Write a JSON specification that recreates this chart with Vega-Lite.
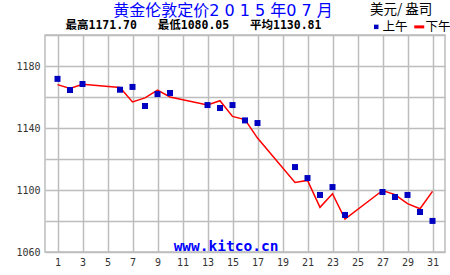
{
  "$schema": "https://vega.github.io/schema/vega-lite/v6.json",
  "width": 400,
  "height": 217,
  "autosize": "none",
  "padding": {"left": 45, "top": 35, "right": 5, "bottom": 23},
  "background": "#ffffff",
  "title": {
    "text": "黄金伦敦定价2 0 1 5 年0 7 月",
    "font": "DejaVu Sans, Noto Sans CJK SC",
    "fontSize": 16,
    "fontWeight": "normal",
    "color": "#0000ff",
    "anchor": "middle",
    "frame": "group",
    "dx": -22,
    "dy": 16,
    "offset": 0
  },
  "config": {
    "view": {"stroke": "#bdbdbd", "strokeWidth": 1.5},
    "axis": {
      "grid": true,
      "gridColor": "#bdbdbd",
      "gridWidth": 1.5,
      "gridOpacity": 1,
      "domain": false,
      "ticks": false,
      "labelFont": "DejaVu Sans Mono",
      "labelFontSize": 10,
      "labelColor": "#333333"
    }
  },
  "data": {
    "values": [
      {"day": 1, "series": "上午", "price": 1171.70},
      {"day": 2, "series": "上午", "price": 1164.5},
      {"day": 3, "series": "上午", "price": 1168.4},
      {"day": 6, "series": "上午", "price": 1164.7},
      {"day": 7, "series": "上午", "price": 1166.5},
      {"day": 8, "series": "上午", "price": 1154.2},
      {"day": 9, "series": "上午", "price": 1161.9},
      {"day": 10, "series": "上午", "price": 1162.6},
      {"day": 13, "series": "上午", "price": 1154.8},
      {"day": 14, "series": "上午", "price": 1152.9},
      {"day": 15, "series": "上午", "price": 1154.8},
      {"day": 16, "series": "上午", "price": 1144.9},
      {"day": 17, "series": "上午", "price": 1143.2},
      {"day": 20, "series": "上午", "price": 1114.8},
      {"day": 21, "series": "上午", "price": 1107.7},
      {"day": 22, "series": "上午", "price": 1096.8},
      {"day": 23, "series": "上午", "price": 1101.9},
      {"day": 24, "series": "上午", "price": 1083.9},
      {"day": 27, "series": "上午", "price": 1098.7},
      {"day": 28, "series": "上午", "price": 1095.5},
      {"day": 29, "series": "上午", "price": 1096.8},
      {"day": 30, "series": "上午", "price": 1085.8},
      {"day": 31, "series": "上午", "price": 1080.05},
      {"day": 1, "series": "下午", "price": 1168.0},
      {"day": 2, "series": "下午", "price": 1165.5},
      {"day": 3, "series": "下午", "price": 1168.2},
      {"day": 6, "series": "下午", "price": 1166.2},
      {"day": 7, "series": "下午", "price": 1156.8},
      {"day": 8, "series": "下午", "price": 1159.4},
      {"day": 9, "series": "下午", "price": 1164.5},
      {"day": 10, "series": "下午", "price": 1160.0},
      {"day": 13, "series": "下午", "price": 1154.8},
      {"day": 14, "series": "下午", "price": 1157.6},
      {"day": 15, "series": "下午", "price": 1147.5},
      {"day": 16, "series": "下午", "price": 1145.4},
      {"day": 17, "series": "下午", "price": 1133.5},
      {"day": 20, "series": "下午", "price": 1104.9},
      {"day": 21, "series": "下午", "price": 1106.2},
      {"day": 22, "series": "下午", "price": 1088.8},
      {"day": 23, "series": "下午", "price": 1097.6},
      {"day": 24, "series": "下午", "price": 1081.3},
      {"day": 27, "series": "下午", "price": 1099.7},
      {"day": 28, "series": "下午", "price": 1097.0},
      {"day": 29, "series": "下午", "price": 1091.2},
      {"day": 30, "series": "下午", "price": 1087.9},
      {"day": 31, "series": "下午", "price": 1099.1}
    ]
  },
  "encoding": {
    "x": {
      "field": "day",
      "type": "quantitative",
      "scale": {"domain": [0, 32], "nice": false, "zero": false},
      "axis": {
        "values": [1, 3, 5, 7, 9, 11, 13, 15, 17, 19, 21, 23, 25, 27, 29, 31],
        "labelPadding": 5,
        "title": "www.kitco.cn",
        "titleFont": "DejaVu Sans Mono",
        "titleFontSize": 14.5,
        "titleFontWeight": "bold",
        "titleColor": "#0000ff",
        "titleX": 180.5,
        "titleY": -6,
        "titleBaseline": "middle",
        "titleAlign": "center"
      }
    },
    "y": {
      "field": "price",
      "type": "quantitative",
      "scale": {"domain": [1060, 1200], "nice": false, "zero": false},
      "axis": {
        "values": [1060, 1080, 1100, 1120, 1140, 1160, 1180, 1200],
        "format": "d",
        "labelExpr": "datum.value % 40 == 20 ? datum.label : ''",
        "labelPadding": 5,
        "title": "最高1171.70\u00a0\u00a0\u00a0最低1080.05\u00a0\u00a0\u00a0平均1130.81",
        "titleFont": "DejaVu Sans Mono, Noto Sans CJK SC",
        "titleFontSize": 11.5,
        "titleFontWeight": "bold",
        "titleColor": "#000000",
        "titleAngle": 0,
        "titleAlign": "left",
        "titleBaseline": "middle",
        "titleX": 20,
        "titleY": -10
      }
    },
    "color": {
      "field": "series",
      "type": "nominal",
      "scale": {"domain": ["上午", "下午"], "range": ["#0000c0", "#ff0000"]},
      "legend": {
        "title": "美元/ 盎司",
        "orient": "none",
        "legendX": 325,
        "legendY": -32,
        "direction": "horizontal",
        "padding": 0,
        "titleFont": "Noto Sans CJK SC",
        "titleFontSize": 13.5,
        "titleFontWeight": "normal",
        "titleColor": "#000000",
        "titleBaseline": "top",
        "titlePadding": 4,
        "labelFont": "Noto Sans CJK SC",
        "labelFontSize": 12.5,
        "labelColor": "#000000",
        "labelOffset": 0,
        "columnPadding": 0,
        "symbolOffset": 0,
        "encode": {
          "symbols": {
            "update": {
              "shape": {"signal": "datum.value === '上午' ? 'square' : 'stroke'"},
              "fill": {"signal": "datum.value === '上午' ? '#0000ff' : 'transparent'"},
              "stroke": {"signal": "datum.value === '上午' ? 'transparent' : '#ff0000'"},
              "strokeWidth": {"signal": "datum.value === '上午' ? 0 : 3"},
              "size": {"signal": "datum.value === '上午' ? 20 : 100"},
              "opacity": {"value": 1}
            }
          }
        }
      }
    }
  },
  "layer": [
    {
      "transform": [{"filter": "datum.series === '下午'"}],
      "mark": {"type": "line", "strokeWidth": 1.5, "interpolate": "linear"}
    },
    {
      "transform": [{"filter": "datum.series === '上午'"}],
      "mark": {"type": "square", "size": 36, "filled": true, "opacity": 1}
    }
  ]
}
